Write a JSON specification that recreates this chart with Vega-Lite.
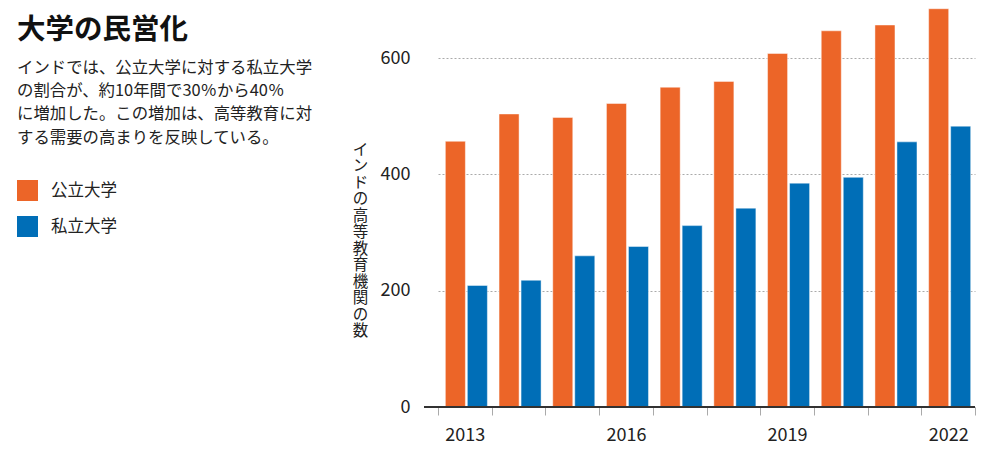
{
  "$schema": "https://vega.github.io/schema/vega-lite/v6.json",
  "autosize": {"type": "none"},
  "width": 551,
  "height": 407,
  "padding": {"left": 424, "top": 0, "right": 25, "bottom": 53},
  "background": "white",
  "config": {
    "font": "Noto Sans CJK JP",
    "view": {"stroke": null}
  },
  "title": {
    "text": "大学の民営化",
    "subtitle": [
      "インドでは、公立大学に対する私立大学",
      "の割合が、約10年間で30％から40％",
      "に増加した。この増加は、高等教育に対",
      "する需要の高まりを反映している。"
    ],
    "anchor": "start",
    "frame": "group",
    "orient": "top",
    "dx": -407,
    "dy": 146,
    "offset": 0,
    "fontSize": 28.5,
    "fontWeight": "bold",
    "color": "#111",
    "subtitleFontSize": 16.4,
    "subtitleLineHeight": 23.3,
    "subtitleColor": "#222",
    "subtitlePadding": 15
  },
  "data": {
    "values": [
      {"year": "2013", "type": "公立大学", "count": 457},
      {"year": "2013", "type": "私立大学", "count": 209},
      {"year": "2014", "type": "公立大学", "count": 504},
      {"year": "2014", "type": "私立大学", "count": 218},
      {"year": "2015", "type": "公立大学", "count": 498},
      {"year": "2015", "type": "私立大学", "count": 260},
      {"year": "2016", "type": "公立大学", "count": 522},
      {"year": "2016", "type": "私立大学", "count": 276},
      {"year": "2017", "type": "公立大学", "count": 550},
      {"year": "2017", "type": "私立大学", "count": 312},
      {"year": "2018", "type": "公立大学", "count": 560},
      {"year": "2018", "type": "私立大学", "count": 342},
      {"year": "2019", "type": "公立大学", "count": 608},
      {"year": "2019", "type": "私立大学", "count": 385},
      {"year": "2020", "type": "公立大学", "count": 647},
      {"year": "2020", "type": "私立大学", "count": 395},
      {"year": "2021", "type": "公立大学", "count": 657},
      {"year": "2021", "type": "私立大学", "count": 456},
      {"year": "2022", "type": "公立大学", "count": 685},
      {"year": "2022", "type": "私立大学", "count": 483}
    ]
  },
  "layer": [
    {
      "mark": {"type": "bar", "stroke": "white", "strokeOpacity": 0.45, "strokeWidth": 1},
      "encoding": {
        "x": {
          "field": "year",
          "type": "ordinal",
          "scale": {"range": [14, 551], "paddingInner": 0, "paddingOuter": 0},
          "axis": {
            "title": null,
            "labelAngle": 0,
            "labelExpr": "indexof(['2013','2016','2019','2022'], datum.label) >= 0 ? datum.label : ''",
            "labelFontSize": 18,
            "labelColor": "#222",
            "labelPadding": 11,
            "tickBand": "extent",
            "tickSize": 8,
            "tickColor": "#aaa",
            "domain": false
          }
        },
        "xOffset": {
          "field": "type",
          "type": "nominal",
          "sort": ["公立大学", "私立大学"],
          "scale": {"paddingInner": 0.09, "paddingOuter": 0.265, "align": 0.63}
        },
        "y": {
          "field": "count",
          "type": "quantitative",
          "scale": {"domain": [0, 700]},
          "axis": {
            "values": [0, 200, 400, 600],
            "labelFontSize": 18,
            "labelColor": "#222",
            "labelPadding": 14,
            "ticks": false,
            "domain": false,
            "gridDash": [2, 2],
            "gridColor": "#aaa",
            "title": ["イ","ン","ド","の","高","等","教","育","機","関","の","数"],
            "titleAngle": 0,
            "titleX": -64,
            "titleY": 142,
            "titleAlign": "center",
            "titleBaseline": "top",
            "titleLineHeight": 16.5,
            "titleFontSize": 15.5,
            "titleFontWeight": "normal",
            "titleColor": "#222"
          }
        },
        "color": {
          "field": "type",
          "type": "nominal",
          "sort": ["公立大学", "私立大学"],
          "scale": {"range": ["#EC6528", "#006EB7"]},
          "legend": {
            "title": null,
            "orient": "none",
            "legendX": -407,
            "legendY": 180,
            "symbolType": "square",
            "symbolSize": 441,
            "symbolStrokeWidth": 0,
            "symbolOpacity": 1,
            "labelFontSize": 16.5,
            "labelColor": "#222",
            "labelOffset": 13,
            "rowPadding": 15
          }
        }
      }
    },
    {
      "mark": {"type": "rule", "color": "#333", "strokeWidth": 1.5},
      "encoding": {"y": {"datum": 0}}
    }
  ]
}
